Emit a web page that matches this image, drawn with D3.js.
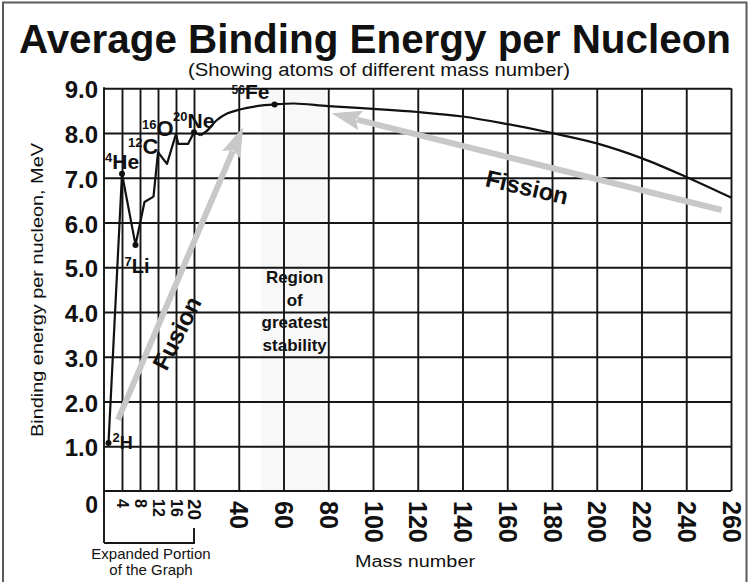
<!DOCTYPE html>
<html><head><meta charset="utf-8">
<script src="https://cdn.jsdelivr.net/npm/d3@7"></script>
<style>
body{margin:0;background:#fff}
svg{display:block;font-family:"Liberation Sans",Arial,Helvetica,sans-serif}
</style>
</head><body><svg id="chart" width="750" height="582"></svg>
<script>
// ---------- data ----------
const massNumbers   = [1, 4, 7, 9, 11, 12, 14, 16, 16.5, 18.7, 20, 23, 26, 30, 35, 40, 48, 56, 65, 80, 100, 120, 140, 160, 180, 200, 220, 240, 260];
const bindingEnergy = [1.07, 7.09, 5.5, 6.46, 6.58, 7.57, 7.31, 7.98, 7.76, 7.76, 8.02, 7.95, 8.06, 8.28, 8.44, 8.52, 8.6, 8.64, 8.66, 8.6, 8.54, 8.47, 8.37, 8.2, 8.0, 7.77, 7.44, 7.02, 6.56];
const isoMass = [1, 4, 7, 12, 16, 20, 56];
const isoSup  = ["2", "4", "7", "12", "16", "20", "56"];
const isoSym  = ["H", "He", "Li", "C", "O", "Ne", "Fe"];
const isoDot  = [true, true, true, false, false, true, true];
const xTicks = [4, 8, 12, 16, 20, 40, 60, 80, 100, 120, 140, 160, 180, 200, 220, 240, 260];
const yTicks = [1, 2, 3, 4, 5, 6, 7, 8, 9];
const stableRange = [50, 79];
const fusionArrow  = [[3.1, 1.59], [41.9, 8.13]];
const fissionArrow = [[255.8, 6.28], [81.5, 8.44]];
const titleText = "Average Binding Energy per Nucleon";
const subtitleText = "(Showing atoms of different mass number)";
const xTitle = "Mass number";
const yTitle = "Binding energy per nucleon, MeV";
const regionLines = ["Region", "of", "greatest", "stability"];
const bracketLines = ["Expanded Portion", "of the Graph"];

// ---------- layout ----------
const svg = d3.select("#chart");
const L = 104, R = 731, T = 88.3, B = 491;
const x = d3.scaleLinear().domain([0, 20, 260]).range([L, 194, R]);
const y = d3.scaleLinear().domain([0, 9]).range([B, T]);
const ink = "#161616";

svg.append("rect").attr("width", 750).attr("height", 582).attr("fill", "#fff");
svg.append("rect").attr("x", 3).attr("y", 2.5).attr("width", 743.5).attr("height", 600)
  .attr("fill", "none").attr("stroke", "#5a5a5a").attr("stroke-width", 2);

// title
svg.append("text").attr("x", 375).attr("y", 53).attr("text-anchor", "middle")
  .attr("font-size", 40).attr("font-weight", "bold").attr("fill", "#111")
  .attr("textLength", 712).attr("lengthAdjust", "spacingAndGlyphs").text(titleText);
svg.append("text").attr("x", 379).attr("y", 76).attr("text-anchor", "middle")
  .attr("font-size", 18).attr("fill", "#111")
  .attr("textLength", 382).attr("lengthAdjust", "spacingAndGlyphs").text(subtitleText);

// region of greatest stability
svg.append("rect").attr("x", x(stableRange[0])).attr("y", T)
  .attr("width", x(stableRange[1]) - x(stableRange[0])).attr("height", B - T).attr("fill", "#f8f8f8");

// y axis + horizontal grid
const gy = svg.append("g").attr("transform", `translate(${L},0)`)
  .call(d3.axisLeft(y).tickValues(yTicks).tickSize(-(R - L)).tickPadding(6).tickFormat(d3.format(".1f")));
gy.select(".domain").remove();
gy.selectAll(".tick line").attr("stroke", ink).attr("stroke-width", 1.9);
gy.selectAll(".tick text").attr("font-size", 24).attr("font-weight", "bold").attr("fill", "#111")
  .attr("font-family", "'Liberation Sans',Arial,sans-serif").attr("dy", "0.4em");

// x axis + vertical grid
const gx = svg.append("g").attr("transform", `translate(0,${B})`)
  .call(d3.axisBottom(x).tickValues(xTicks).tickSize(-(B - T)).tickFormat(d => d));
gx.select(".domain").remove();
gx.selectAll(".tick line").attr("stroke", ink).attr("stroke-width", 1.9);
gx.selectAll(".tick text").each(function(d) {
  const fs = d < 20 ? 16 : (d === 20 ? 19 : 25);
  d3.select(this).attr("font-size", fs).attr("font-weight", "bold").attr("fill", "#111")
    .attr("font-family", "'Liberation Sans',Arial,sans-serif")
    .attr("text-anchor", "start").attr("transform", "rotate(90)")
    .attr("x", d <= 20 ? 8 : 10).attr("y", 0.36 * fs).attr("dy", 0);
});

// plot frame (bottom/left)
svg.append("line").attr("x1", L).attr("x2", R).attr("y1", B).attr("y2", B).attr("stroke", ink).attr("stroke-width", 1.9);
svg.append("line").attr("x1", L).attr("x2", L).attr("y1", T - 1).attr("y2", 543).attr("stroke", ink).attr("stroke-width", 1.9);
// bracket for expanded portion
svg.append("path").attr("d", `M${L},543 H${x(20)} V528`).attr("fill", "none").attr("stroke", ink).attr("stroke-width", 1.9);
bracketLines.forEach((t, i) => {
  svg.append("text").attr("x", (L + x(20)) / 2 + 2).attr("y", 559 + i * 16).attr("text-anchor", "middle")
    .attr("font-size", 15).attr("fill", "#111").text(t);
});

// "0" label at origin
svg.append("text").attr("x", L - 6).attr("y", 513).attr("text-anchor", "end")
  .attr("font-size", 23).attr("font-weight", "bold").attr("fill", "#111").text("0");

// axis titles
svg.append("text").attr("x", 415).attr("y", 567).attr("text-anchor", "middle")
  .attr("font-size", 16).attr("fill", "#111")
  .attr("textLength", 120).attr("lengthAdjust", "spacingAndGlyphs").text(xTitle);
svg.append("text").attr("transform", "translate(43,290) rotate(-90)").attr("text-anchor", "middle")
  .attr("font-size", 17).attr("fill", "#111")
  .attr("textLength", 294).attr("lengthAdjust", "spacingAndGlyphs").text(yTitle);

// region label
const regionX = x(65);
regionLines.forEach((t, i) => {
  svg.append("text").attr("x", regionX).attr("y", 283 + i * 22.5).attr("text-anchor", "middle")
    .attr("font-size", 17).attr("font-weight", "bold").attr("fill", "#111").text(t);
});

// arrows
function arrow(pts) {
  const [p0, p1] = pts.map(p => [x(p[0]), y(p[1])]);
  const dx = p1[0] - p0[0], dy = p1[1] - p0[1], len = Math.hypot(dx, dy);
  const ux = dx / len, uy = dy / len, hl = 30, hw = 10;
  const bx = p1[0] - ux * hl, by = p1[1] - uy * hl;
  svg.append("line").attr("x1", p0[0]).attr("y1", p0[1]).attr("x2", bx + ux * 4).attr("y2", by + uy * 4)
    .attr("stroke", "#c8c8c8").attr("stroke-width", 6);
  svg.append("path").attr("d", `M${p1[0]},${p1[1]} L${bx - uy * hw},${by + ux * hw} L${bx + ux * 5},${by + uy * 5} L${bx + uy * hw},${by - ux * hw} Z`)
    .attr("fill", "#c8c8c8");
}
arrow(fusionArrow);
arrow(fissionArrow);

svg.append("text").attr("transform", `translate(${x(16.2)},${y(3.53)}) rotate(-63)`)
  .attr("text-anchor", "middle").attr("dy", "0.35em").attr("font-size", 24).attr("font-weight", "bold")
  .attr("fill", "#111").text("Fusion");
svg.append("text").attr("transform", `translate(${x(168.8)},${y(6.79)}) rotate(13)`)
  .attr("text-anchor", "middle").attr("dy", "0.35em").attr("font-size", 24).attr("font-weight", "bold")
  .attr("fill", "#111").text("Fission");

// curve
const pts = massNumbers.map((m, i) => [m, bindingEnergy[i]]);
const lineLin = d3.line().x(d => x(d[0])).y(d => y(d[1])).curve(d3.curveLinear);
const lineSmooth = d3.line().x(d => x(d[0])).y(d => y(d[1])).curve(d3.curveCatmullRom.alpha(0.5));
svg.append("path").attr("d", lineLin(pts.filter(d => d[0] <= 23)))
  .attr("fill", "none").attr("stroke", "#111").attr("stroke-width", 2.2).attr("stroke-linejoin", "round");
svg.append("path").attr("d", lineSmooth(pts.filter(d => d[0] >= 23)))
  .attr("fill", "none").attr("stroke", "#111").attr("stroke-width", 2.2);

// isotope labels and dots
const labelOffset = { H: [4, 6, 18], He: [-17, -5, 21], Li: [-11, 28, 20], C: [-30, 2, 22], O: [-34, 2, 22], Ne: [-21, -4, 21], Fe: [-43, -5, 21] };
isoMass.forEach((m, i) => {
  const v = bindingEnergy[massNumbers.indexOf(m)];
  const px = x(m), py = y(v);
  if (isoDot[i]) svg.append("circle").attr("cx", px).attr("cy", py).attr("r", 3).attr("fill", "#111");
  const [ox, oy, fs] = labelOffset[isoSym[i]];
  const supDy = isoSym[i] === "Fe" ? -5 : -7;
  const t = svg.append("text").attr("x", px + ox).attr("y", py + oy).attr("font-weight", "bold").attr("fill", "#111");
  t.append("tspan").attr("font-size", isoSym[i] === "Fe" ? 12 : 13).attr("dy", supDy).text(isoSup[i]);
  t.append("tspan").attr("font-size", fs).attr("dy", -supDy).text(isoSym[i]);
});
</script>
</body></html>
